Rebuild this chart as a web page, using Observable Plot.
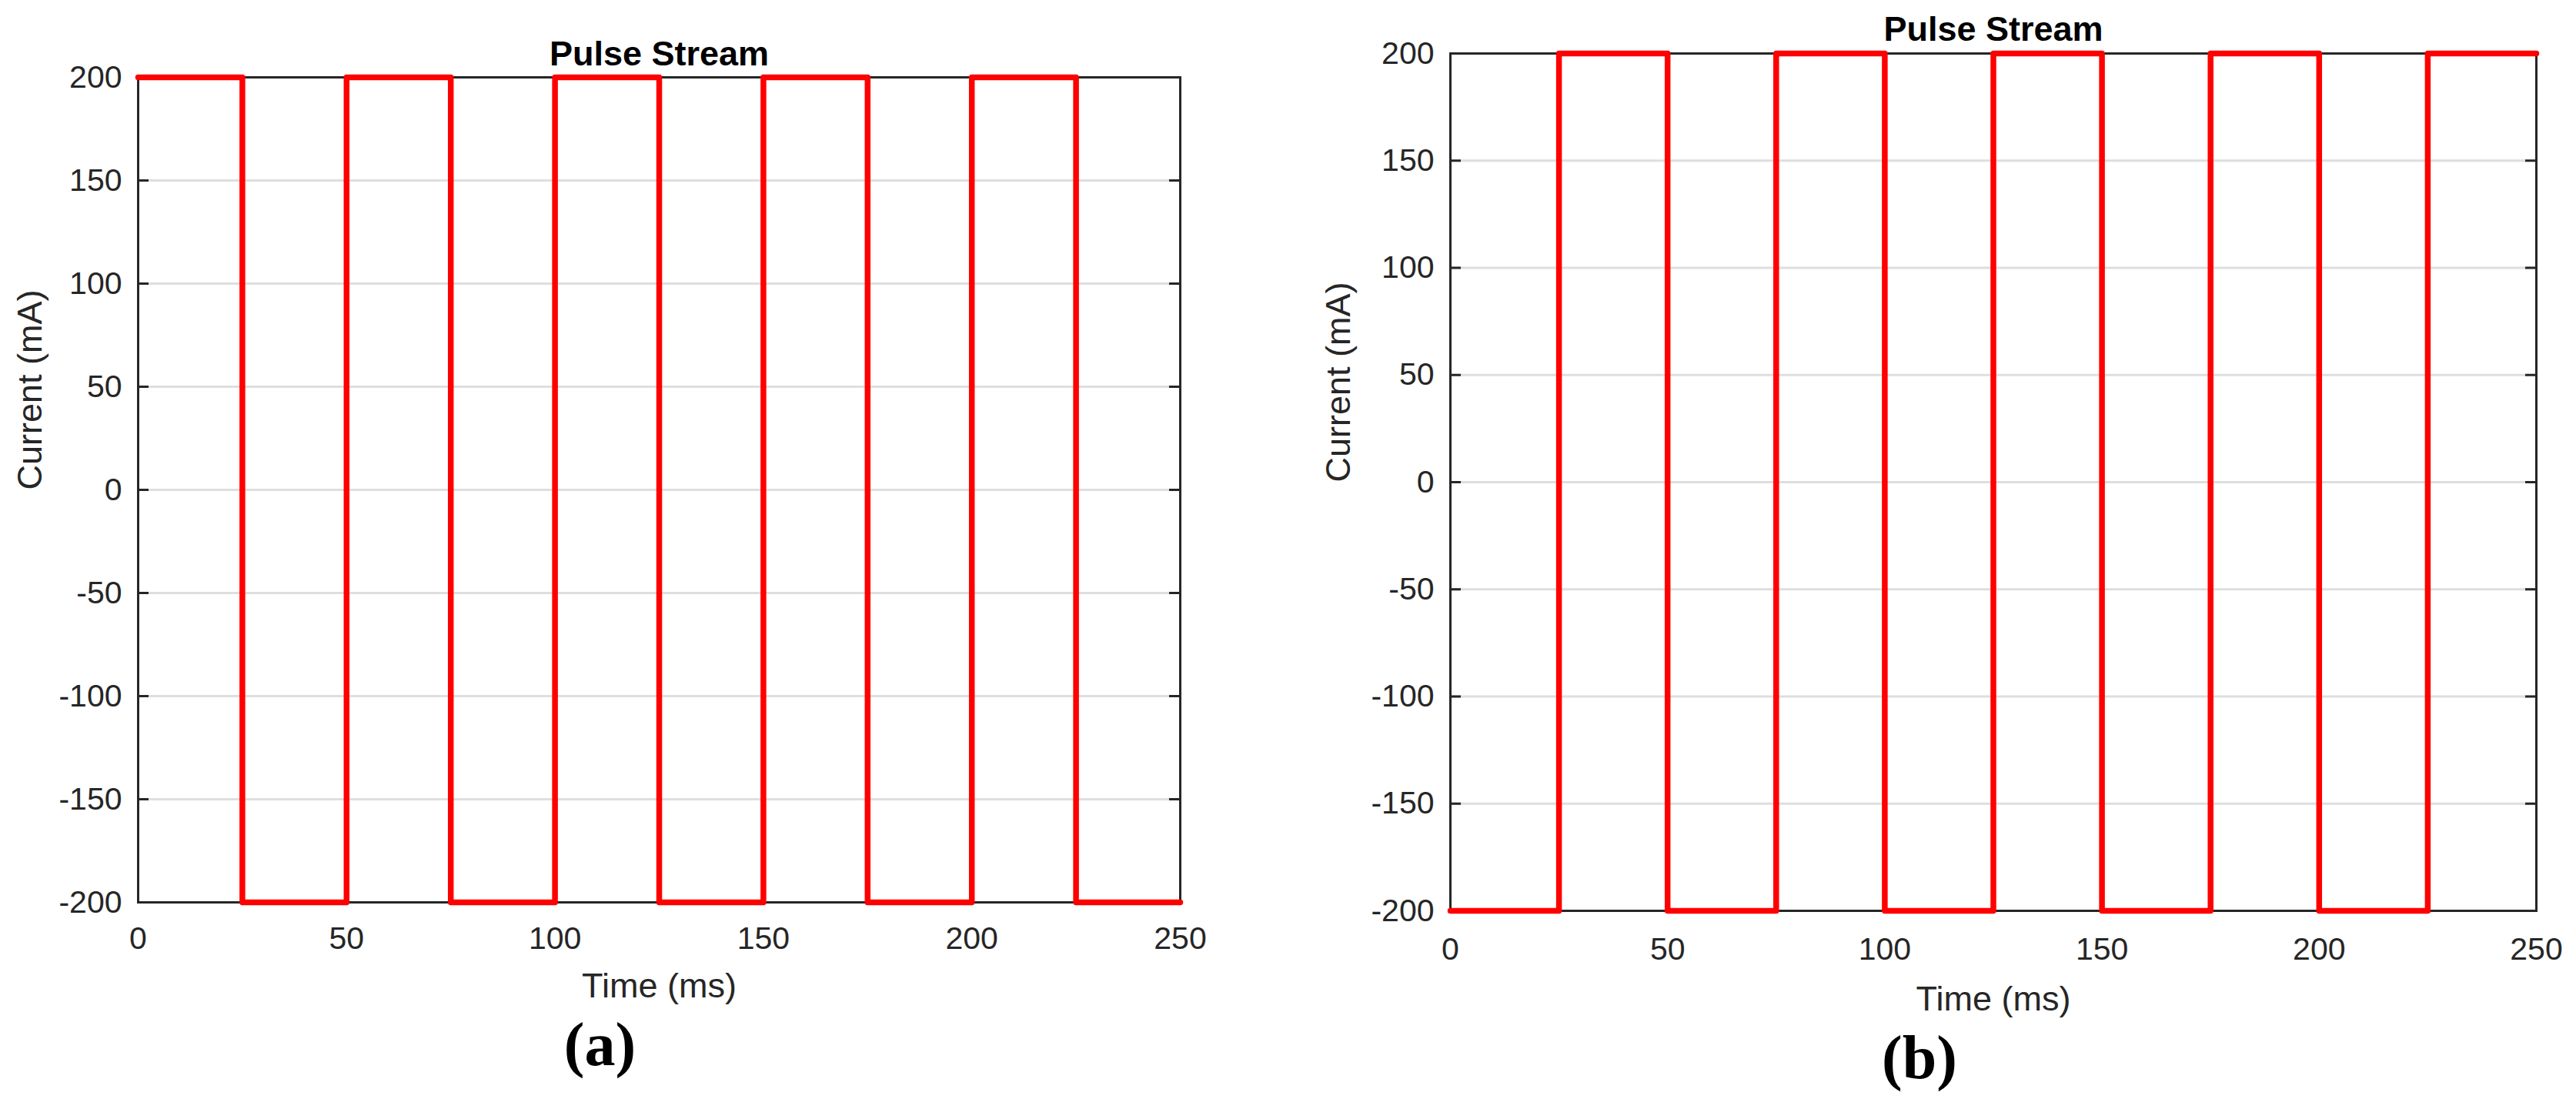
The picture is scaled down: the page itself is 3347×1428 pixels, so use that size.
<!DOCTYPE html>
<html>
<head>
<meta charset="utf-8">
<script src="https://cdn.jsdelivr.net/npm/d3@7"></script>
<script src="https://cdn.jsdelivr.net/npm/@observablehq/plot@0.6"></script>
<style>
  html, body { margin: 0; padding: 0; background: #fff; }
  #wrap { position: relative; width: 3347px; height: 1428px; background: #fff; overflow: hidden; }
  #wrap svg { position: absolute; top: 0; }
</style>
</head>
<body>
<div id="wrap"></div>
<script>
// ---- data ----
const edges = [0, 25, 50, 75, 100, 125, 150, 175, 200, 225, 250];          // time (ms) of each level change
const levelsA = [200, -200, 200, -200, 200, -200, 200, -200, 200, -200]; // panel (a) current (mA)
const levelsB = [-200, 200, -200, 200, -200, 200, -200, 200, -200, 200]; // panel (b) current (mA)
const xTicks = [0, 50, 100, 150, 200, 250];
const yTicks = [-200, -150, -100, -50, 0, 50, 100, 150, 200];
const titleText = "Pulse Stream";
const xLabel = "Time (ms)";
const yLabel = "Current (mA)";

function toSeries(levels) {
  const rows = levels.map((v, i) => ({t: edges[i], v}));
  rows.push({t: edges[edges.length - 1], v: levels[levels.length - 1]});
  return rows;
}

const INK = "#262626";
const TICK = 14;

function panel(cfg) {
  const fw = cfg.width - cfg.marginLeft - cfg.marginRight;
  const fh = cfg.height - cfg.marginTop - cfg.marginBottom;
  const svg = Plot.plot({
    width: cfg.width,
    height: cfg.height,
    marginLeft: cfg.marginLeft,
    marginRight: cfg.marginRight,
    marginTop: cfg.marginTop,
    marginBottom: cfg.marginBottom,
    style: {fontFamily: "'Liberation Sans', Arial, Helvetica, sans-serif", color: INK, background: "transparent", overflow: "visible"},
    x: {domain: [0, 250]},
    y: {domain: [-200, 200]},
    marks: [
      Plot.gridY(yTicks, {stroke: "#dedede", strokeOpacity: 1, strokeWidth: 3}),
      Plot.frame({stroke: INK, strokeWidth: 3}),
      Plot.tickY(yTicks, {y: d => d, stroke: INK, strokeWidth: 3, insetRight: fw - TICK}),
      Plot.tickY(yTicks, {y: d => d, stroke: INK, strokeWidth: 3, insetLeft: fw - TICK}),
      Plot.tickX(xTicks, {x: d => d, stroke: INK, strokeWidth: 3, insetTop: fh - TICK}),
      Plot.tickX(xTicks, {x: d => d, stroke: INK, strokeWidth: 3, insetBottom: fh - TICK}),
      Plot.line(toSeries(cfg.levels), {x: "t", y: "v", curve: "step-after", stroke: "#ff0000", strokeWidth: 7.5, strokeLinejoin: "round"}),
      Plot.axisX(xTicks, {anchor: "bottom", tickSize: 0, tickPadding: cfg.xPad, tickFormat: d => String(d), fontSize: 41, fill: INK, label: null}),
      Plot.axisY(yTicks, {anchor: "left", tickSize: 0, tickPadding: 21, tickFormat: d => String(d), fontSize: 41, fill: INK, label: null}),
      Plot.text([titleText], {frameAnchor: "top", dy: cfg.titleDy, lineAnchor: "bottom", fontSize: 45, fontWeight: "bold", fill: "#000"}),
      Plot.text([xLabel], {frameAnchor: "bottom", dy: cfg.xLabelDy, lineAnchor: "bottom", fontSize: 45, fill: INK}),
      Plot.text([yLabel], {frameAnchor: "left", dx: cfg.yLabelDx, rotate: -90, lineAnchor: "bottom", fontSize: 45, fill: INK}),
      Plot.text([cfg.tag], {frameAnchor: "bottom", dx: cfg.tagDx, dy: cfg.tagDy, lineAnchor: "bottom", fontSize: 80, fontWeight: "bold", fontFamily: "'Liberation Serif', 'Times New Roman', serif", fill: "#000"})
    ]
  });
  svg.style.left = cfg.left + "px";
  return svg;
}

const wrap = document.getElementById("wrap");
wrap.appendChild(panel({
  left: 0, width: 1700, height: 1428,
  marginLeft: 179, marginRight: 167, marginTop: 100, marginBottom: 256,
  levels: levelsA, xPad: 31, titleDy: -16, xLabelDy: 123, yLabelDx: -126,
  tag: "(a)", tagDx: -77, tagDy: 211
}));
wrap.appendChild(panel({
  left: 1700, width: 1647, height: 1428,
  marginLeft: 184, marginRight: 52, marginTop: 69, marginBottom: 245,
  levels: levelsB, xPad: 34, titleDy: -17, xLabelDy: 129, yLabelDx: -131,
  tag: "(b)", tagDx: -96, tagDy: 217
}));
</script>
</body>
</html>
